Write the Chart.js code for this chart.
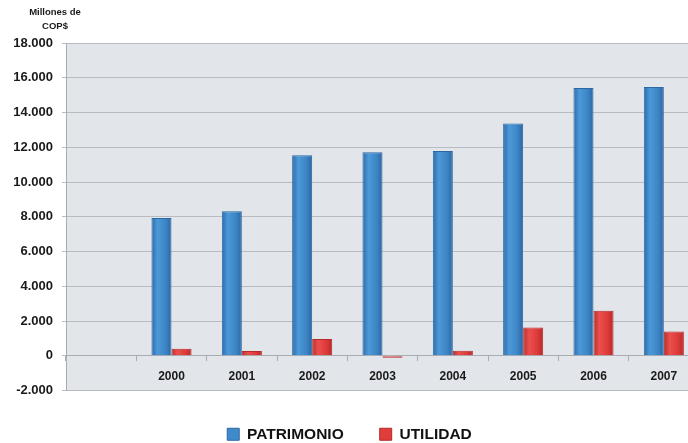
<!DOCTYPE html>
<html lang="es">
<head>
<meta charset="utf-8">
<title>Patrimonio y Utilidad</title>
<script src="https://cdn.jsdelivr.net/npm/chart.js@4.4.1/dist/chart.umd.min.js"></script>
<style>
  html, body { margin: 0; padding: 0; background: #ffffff; overflow: hidden; }
  .chart-wrap { position: relative; width: 700px; height: 452px; }
</style>
</head>
<body>
<div class="chart-wrap">
  <canvas id="myChart"></canvas>
</div>
<script>
// first slot is empty on purpose, like the original chart
const categories = ["", "2000", "2001", "2002", "2003", "2004", "2005", "2006", "2007"];
const patrimonio = [null, 7930, 8310, 11540, 11710, 11790, 13360, 15415, 15470];
const utilidad = [null, 400, 270, 960, -120, 290, 1630, 2590, 1400];
const yTicks = [-2000, 0, 2000, 4000, 6000, 8000, 10000, 12000, 14000, 16000, 18000];
const unitLines = ["Millones de", "COP$"];

const fontName = "'Liberation Sans', Arial, sans-serif";
const blueStops = ["#2C6AA8", "#4C98D8", "#3D86C6", "#2B66A2"];
const redStops = ["#B92C2C", "#EA504C", "#DE3A3A", "#B52A2A"];
const legendColors = ["#3F8ACB", "#E03D3B"];
const catPct = 0.57;

const formatNumber = function (value) {
  let sign = value < 0 ? "-" : "";
  let s = String(Math.abs(value));
  return sign + s.replace(/\B(?=(\d{3})+(?!\d))/g, ".");
};

// soft horizontal shading on each bar, like the original 3D look
const barGradient = function (context, stops) {
  const chart = context.chart;
  if (context.type !== "data" || !chart.chartArea || !chart.scales.x) {
    return stops[2];
  }
  const xs = chart.scales.x;
  const center = xs.getPixelForValue(context.dataIndex);
  const barW = xs.width / categories.length * catPct / 2;
  const left = context.datasetIndex === 0 ? center - barW : center;
  const g = chart.ctx.createLinearGradient(left, 0, left + barW, 0);
  g.addColorStop(0, stops[0]);
  g.addColorStop(0.3, stops[1]);
  g.addColorStop(0.7, stops[2]);
  g.addColorStop(1, stops[3]);
  return g;
};

// grey plot background + unit text top left
const plotBackground = {
  id: "plotBackground",
  beforeDraw(chart) {
    const { ctx, chartArea } = chart;
    ctx.save();
    ctx.fillStyle = "#E2E6EA";
    ctx.fillRect(chartArea.left, chartArea.top, chartArea.right - chartArea.left, chartArea.bottom - chartArea.top);
    ctx.restore();
  },
  afterDraw(chart) {
    const ctx = chart.ctx;
    ctx.save();
    ctx.fillStyle = "#1a1a1a";
    ctx.font = "bold 9.5px " + fontName;
    ctx.textAlign = "center";
    ctx.textBaseline = "middle";
    ctx.fillText(unitLines[0], 55, 12);
    ctx.fillText(unitLines[1], 55, 26);
    ctx.restore();
  }
};

const drawChart = function () {
  const ctx = document.getElementById("myChart").getContext("2d");
  const myChart = new Chart(ctx, {
    type: "bar",
    data: {
      labels: categories,
      datasets: [
        {
          label: "PATRIMONIO",
          data: patrimonio,
          backgroundColor: function (c) { return barGradient(c, blueStops); },
          borderColor: "#2C68A3",
          borderWidth: 1,
          categoryPercentage: catPct,
          barPercentage: 1
        },
        {
          label: "UTILIDAD",
          data: utilidad,
          backgroundColor: function (c) { return barGradient(c, redStops); },
          borderColor: "#B52A2A",
          borderWidth: 1,
          categoryPercentage: catPct,
          barPercentage: 1
        }
      ]
    },
    options: {
      responsive: true,
      maintainAspectRatio: false,
      animation: false,
      layout: { padding: { left: 0, right: 1, top: 43, bottom: 0 } },
      plugins: {
        tooltip: { enabled: false },
        legend: {
          position: "bottom",
          labels: {
            boxWidth: 12,
            boxHeight: 12,
            padding: 36,
            color: "#111111",
            font: { family: fontName, size: 15.5, weight: "bold" },
            generateLabels: function (chart) {
              let items = Chart.defaults.plugins.legend.labels.generateLabels(chart);
              for (let item of items) {
                item.fillStyle = legendColors[item.datasetIndex];
              }
              return items;
            }
          }
        }
      },
      scales: {
        x: {
          position: { y: 0 },
          offset: true,
          grid: {
            offset: true,
            drawOnChartArea: false,
            drawTicks: true,
            tickLength: 5,
            color: "#A9ADB1"
          },
          border: { display: true, color: "#A9ADB1" },
          ticks: {
            padding: 9,
            color: "#1a1a1a",
            font: { family: fontName, size: 12, weight: "bold" }
          }
        },
        y: {
          min: -2000,
          max: 18000,
          afterFit: function (scale) {
            scale.width = 66;
          },
          afterBuildTicks: function (scale) {
            scale.ticks = yTicks.map(function (v) { return { value: v }; });
          },
          grid: {
            color: "#B8BCC0",
            tickLength: 4
          },
          border: { display: true, color: "#A9ADB1" },
          ticks: {
            padding: 9,
            color: "#1a1a1a",
            font: { family: fontName, size: 13, weight: "bold" },
            callback: function (value) {
              return formatNumber(value);
            }
          }
        }
      }
    },
    plugins: [plotBackground]
  });
};

document.addEventListener("DOMContentLoaded", function () {
  drawChart();
});
</script>
</body>
</html>
